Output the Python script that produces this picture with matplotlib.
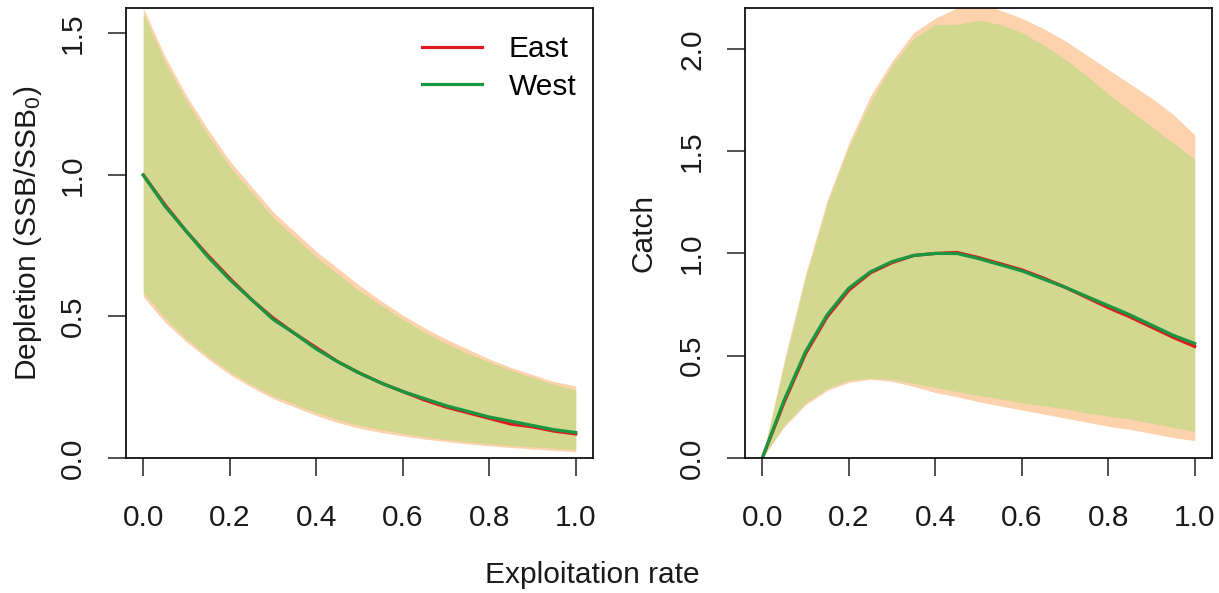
import matplotlib
matplotlib.use('Agg')
import matplotlib.pyplot as plt
import numpy as np

plt.rcParams['font.family'] = ['Liberation Sans', 'DejaVu Sans']
plt.rcParams['mathtext.fontset'] = 'custom'
plt.rcParams['mathtext.rm'] = 'Liberation Sans'
plt.rcParams['mathtext.it'] = 'Liberation Sans:italic'

# exploitation rate grid
u = [0.0, 0.05, 0.1, 0.15, 0.2, 0.25, 0.3, 0.35, 0.4, 0.45, 0.5,
     0.55, 0.6, 0.65, 0.7, 0.75, 0.8, 0.85, 0.9, 0.95, 1.0]

# depletion (SSB/SSB0)
dep_east = [1.00, 0.895, 0.80, 0.715, 0.635, 0.56, 0.495, 0.44, 0.39, 0.34, 0.30,
            0.265, 0.235, 0.205, 0.18, 0.16, 0.14, 0.12, 0.11, 0.095, 0.085]
dep_west = [1.00, 0.89, 0.80, 0.71, 0.63, 0.56, 0.49, 0.44, 0.385, 0.34, 0.30,
            0.265, 0.235, 0.21, 0.185, 0.165, 0.145, 0.13, 0.115, 0.10, 0.09]
dep_east_hi = [1.59, 1.42, 1.28, 1.16, 1.05, 0.96, 0.87, 0.80, 0.73, 0.67, 0.61,
               0.555, 0.505, 0.46, 0.42, 0.385, 0.35, 0.32, 0.295, 0.27, 0.255]
dep_west_hi = [1.57, 1.40, 1.26, 1.14, 1.03, 0.94, 0.85, 0.78, 0.71, 0.65, 0.59,
               0.54, 0.49, 0.445, 0.405, 0.37, 0.34, 0.31, 0.285, 0.26, 0.24]
dep_east_lo = [0.57, 0.48, 0.41, 0.35, 0.295, 0.25, 0.21, 0.18, 0.15, 0.125, 0.105,
               0.09, 0.078, 0.067, 0.058, 0.05, 0.043, 0.037, 0.032, 0.027, 0.022]
dep_west_lo = [0.585, 0.495, 0.42, 0.36, 0.305, 0.26, 0.22, 0.19, 0.16, 0.135, 0.115,
               0.10, 0.087, 0.075, 0.065, 0.057, 0.05, 0.044, 0.039, 0.034, 0.03]

# catch
cat_east = [0.0, 0.27, 0.51, 0.69, 0.82, 0.905, 0.955, 0.99, 1.00, 1.005, 0.98,
            0.95, 0.92, 0.88, 0.835, 0.785, 0.735, 0.69, 0.64, 0.59, 0.545]
cat_west = [0.0, 0.28, 0.52, 0.70, 0.83, 0.91, 0.96, 0.99, 1.00, 1.00, 0.975,
            0.945, 0.915, 0.875, 0.835, 0.79, 0.745, 0.70, 0.65, 0.60, 0.56]
cat_east_hi = [0.0, 0.47, 0.90, 1.26, 1.54, 1.77, 1.94, 2.08, 2.15, 2.20, 2.23,
               2.19, 2.15, 2.10, 2.04, 1.97, 1.90, 1.83, 1.76, 1.68, 1.58]
cat_west_hi = [0.0, 0.45, 0.88, 1.24, 1.52, 1.74, 1.92, 2.05, 2.12, 2.12, 2.14,
               2.12, 2.08, 2.02, 1.95, 1.87, 1.78, 1.70, 1.62, 1.54, 1.46]
cat_east_lo = [0.0, 0.15, 0.26, 0.33, 0.37, 0.385, 0.375, 0.35, 0.32, 0.30, 0.275,
               0.255, 0.235, 0.215, 0.195, 0.175, 0.155, 0.14, 0.12, 0.10, 0.085]
cat_west_lo = [0.0, 0.16, 0.27, 0.34, 0.38, 0.39, 0.385, 0.365, 0.345, 0.325, 0.305,
               0.29, 0.27, 0.255, 0.24, 0.22, 0.205, 0.19, 0.17, 0.15, 0.13]

xticks = [0.0, 0.2, 0.4, 0.6, 0.8, 1.0]
dep_yticks = [0.0, 0.5, 1.0, 1.5]
cat_yticks = [0.0, 0.5, 1.0, 1.5, 2.0]

east_col = '#E0191F'
west_col = '#19963F'
east_fill = '#FDD3AE'
west_fill = '#D2D88F'
fs = 21.5

W, H = 1219, 593
fig = plt.figure(figsize=(W / 100, H / 100), dpi=100)
ax1 = fig.add_axes([126 / W, 1 - 458 / H, 467 / W, 450 / H])
ax2 = fig.add_axes([745 / W, 1 - 458 / H, 467 / W, 450 / H])


def panel(ax, e, w, e_lo, e_hi, w_lo, w_hi, ymax, yticks, ylab, labx):
    ax.fill_between(u, e_lo, e_hi, color=east_fill, lw=0)
    ax.fill_between(u, w_lo, w_hi, color=west_fill, lw=0)
    ax.plot(u, e, color=east_col, lw=2.3, label='East')
    ax.plot(u, w, color=west_col, lw=2.3, label='West')
    ax.set_xlim(-0.04, 1.04)
    ax.set_ylim(0, ymax)
    ax.set_xticks(xticks)
    ax.set_xticklabels(['%.1f' % t for t in xticks])
    ax.set_yticks(yticks)
    ax.set_yticklabels(['%.1f' % t for t in yticks], rotation=90, va='center')
    ax.tick_params(direction='out', length=13, width=1.1, pad=15,
                   labelsize=fs, color='#222222', labelcolor='#1a1a1a')
    ax.tick_params(axis='x', pad=20)
    for s in ax.spines.values():
        s.set_linewidth(1.3)
        s.set_color('#111111')
    ax.text(labx, 0.5, ylab, transform=ax.transAxes, rotation=90,
            ha='center', va='center', fontsize=fs, color='#1a1a1a')


panel(ax1, dep_east, dep_west, dep_east_lo, dep_east_hi, dep_west_lo, dep_west_hi,
      1.59, dep_yticks, 'Depletion (SSB/SSB$_0$)', -0.21)
panel(ax2, cat_east, cat_west, cat_east_lo, cat_east_hi, cat_west_lo, cat_west_hi,
      2.2, cat_yticks, 'Catch', -0.218)

ax1.legend(loc='upper right', bbox_to_anchor=(0.965, 0.94), frameon=False,
           fontsize=fs, handlelength=2.0, handletextpad=0.9, labelspacing=0.33,
           borderpad=0, borderaxespad=0)

fig.text(592 / W, 1 - 575 / H, 'Exploitation rate', ha='center', va='center',
         fontsize=fs, color='#1a1a1a')

fig.savefig('out.png', dpi=100)
